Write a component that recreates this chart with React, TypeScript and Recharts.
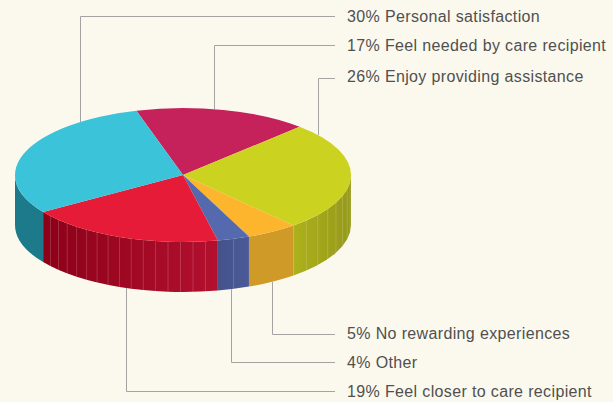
import { Cell, Pie, PieChart } from 'recharts';

const categories = [
  'Feel needed by care recipient',
  'Enjoy providing assistance',
  'No rewarding experiences',
  'Other',
  'Feel closer to care recipient',
  'Personal satisfaction',
];
// printed in the labels
const shares = [17, 26, 5, 4, 19, 30];
// slice sizes as actually drawn in the picture, the labels are rounded and a bit off
const drawnShares = [16.7, 26.4, 5, 3.1, 19, 29.9];

const topColors = ['#c5225b', '#cbd21f', '#fdb52d', '#5569ae', '#e61b38', '#3bc3d9'];
const wallFrom = ['#8f1a44', '#adb11a', '#cf9a27', '#45528a', '#8c0018', '#1c7a8b'];
const wallTo = ['#8f1a44', '#95991a', '#cf9a27', '#4b5a98', '#b3102e', '#1c7a8b'];
const facets = [0, 8, 0, 2, 16, 0];

// leader lines: x where it leaves the pie, y of the horizontal run, y of the text baseline
const leaderX = [214, 318, 272, 231, 126, 80];
const leaderY = [45, 78, 334, 362, 391, 16];
const textY = [51, 82, 339, 368, 397, 22];

const CX = 183;
const CY = 175;
const RX = 168;
const RY = 67;
const DEPTH = 50;
const LINE_END = 335;
const TEXT_X = 347;

const data = categories.map((name, i) => ({ name, value: drawnShares[i] }));

function pt(deg: number, dy = 0) {
  const a = (deg * Math.PI) / 180;
  return [CX + RX * Math.cos(a), CY - RY * Math.sin(a) + dy];
}

function fmt(p: number[]) {
  return `${p[0].toFixed(2)} ${p[1].toFixed(2)}`;
}

function Slice3D(props: any) {
  const { startAngle, endAngle, index, fill } = props;
  const large = Math.abs(startAngle - endAngle) > 180 ? 1 : 0;
  const top = `M${CX} ${CY} L${fmt(pt(startAngle))} A${RX} ${RY} 0 ${large} 1 ${fmt(pt(endAngle))} Z`;

  // only the front half of the rim shows
  const walls: any[] = [];
  for (const k of [-1, 0, 1]) {
    const hi = Math.min(startAngle, 360 * k);
    const lo = Math.max(endAngle, 360 * k - 180);
    if (hi <= lo) continue;
    const d =
      `M${fmt(pt(hi))} A${RX} ${RY} 0 0 1 ${fmt(pt(lo))} L${fmt(pt(lo, DEPTH))} ` +
      `A${RX} ${RY} 0 0 0 ${fmt(pt(hi, DEPTH))} Z`;
    const id = `wall-${index}-${k + 1}`;
    const lines = [];
    const n = facets[index];
    for (let j = 1; j < n; j++) {
      const a = lo + ((hi - lo) * j) / n;
      const p = pt(a);
      lines.push(
        <line key={j} x1={p[0]} y1={p[1]} x2={p[0]} y2={p[1] + DEPTH} stroke="#fff" strokeOpacity={0.22} strokeWidth={0.8} />,
      );
    }
    walls.push(
      <g key={k}>
        <defs>
          <linearGradient id={id} x1="0" x2="1" y1="0" y2="0">
            <stop offset="0%" stopColor={wallFrom[index]} />
            <stop offset="100%" stopColor={wallTo[index]} />
          </linearGradient>
        </defs>
        <path d={d} fill={`url(#${id})`} />
        {lines}
      </g>,
    );
  }

  return (
    <g>
      {walls}
      <path d={top} fill={fill} />
    </g>
  );
}

function Leader(props: any) {
  const i = props.index;
  const x = leaderX[i];
  const y = leaderY[i];
  const off = RY * Math.sqrt(1 - ((x - CX) / RX) ** 2);
  const edge = y < CY ? CY - off : CY + off + DEPTH;
  return (
    <g>
      <path
        d={`M${x + 0.5} ${edge} L${x + 0.5} ${y + 0.5} L${LINE_END} ${y + 0.5}`}
        fill="none"
        stroke="#a3a3a1"
        strokeWidth={1}
      />
      <text x={TEXT_X} y={textY[i]} fill="#505050" fontSize={16} fontFamily="Liberation Sans" letterSpacing={0.36}>
        {`${shares[i]}% ${categories[i]}`}
      </text>
    </g>
  );
}

export default function App() {
  return (
    <div style={{ position: 'absolute', left: 0, top: 0, width: 613, height: 402, background: '#fbf9ee' }}>
      <PieChart width={613} height={402} margin={{ top: 0, right: 0, bottom: 0, left: 0 }}>
        <Pie
          data={data}
          dataKey="value"
          nameKey="name"
          cx={CX}
          cy={CY}
          innerRadius={0}
          outerRadius={RX}
          startAngle={106.1}
          endAngle={-253.9}
          stroke="none"
          shape={Slice3D}
          label={Leader}
          labelLine={false}
          isAnimationActive={false}
        >
          {data.map((d, i) => (
            <Cell key={d.name} fill={topColors[i]} />
          ))}
        </Pie>
      </PieChart>
    </div>
  );
}
